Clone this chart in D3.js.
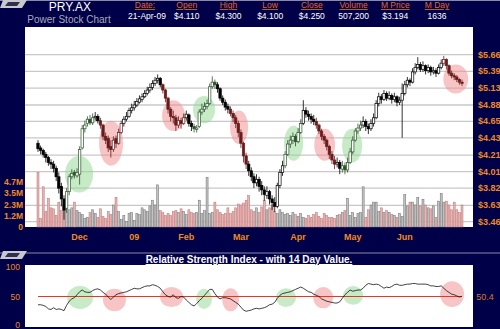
<!DOCTYPE html>
<html>
<head>
<meta charset="utf-8">
<script src="https://cdn.jsdelivr.net/npm/d3@7"></script>
<style>
  body { margin: 0; background: #000048; }
  svg { display: block; font-family: "Liberation Sans", Arial, sans-serif; }
</style>
</head>
<body>
<div id="chart"></div>
<script>
// Header data
var symbol = "PRY.AX",
    subtitle = "Power Stock Chart";
var headerLabels = ["Date:", "Open", "High", "Low", "Close", "Volume", "M Price", "M Day"];
var headerValues = ["21-Apr-09", "$4.110", "$4.300", "$4.100", "$4.250", "507,200", "$3.194", "1636"];

// Daily prices (one per trading day)
var openP = [4.36,4.30,4.27,4.22,4.18,4.12,4.10,4.05,3.95,3.84,
  3.70,3.60,3.78,3.95,4.00,3.96,3.98,4.30,4.55,4.62,
  4.68,4.63,4.70,4.72,4.66,4.60,4.45,4.42,4.32,4.28,
  4.42,4.36,4.50,4.62,4.68,4.72,4.80,4.84,4.88,4.92,
  4.96,5.00,5.05,5.10,5.14,5.20,5.25,5.28,5.18,5.10,
  4.98,4.82,4.72,4.70,4.60,4.66,4.62,4.70,4.74,4.62,
  4.58,4.54,4.58,4.78,4.82,4.86,4.90,5.15,5.22,5.18,
  5.12,4.98,4.92,4.86,4.82,4.76,4.70,4.62,4.50,4.36,
  4.20,4.10,4.02,3.95,3.88,3.92,3.85,3.80,3.74,3.78,
  3.70,3.66,3.62,3.85,4.00,4.08,4.22,4.35,4.40,4.45,
  4.38,4.50,4.62,4.80,4.75,4.72,4.68,4.65,4.60,4.52,
  4.45,4.40,4.32,4.22,4.15,4.10,4.12,4.04,4.08,4.03,
  4.12,4.25,4.40,4.52,4.56,4.60,4.65,4.58,4.55,4.62,
  4.70,4.90,5.00,4.96,5.05,4.98,5.02,4.96,5.00,4.92,
  4.95,5.05,5.18,5.25,5.22,5.38,5.45,5.50,5.42,5.48,
  5.40,5.45,5.38,5.40,5.36,5.45,5.52,5.58,5.48,5.36,
  5.32,5.30,5.26,5.22];
var highP = [4.40,4.33,4.29,4.25,4.20,4.16,4.14,4.08,4.00,3.88,
  3.74,3.82,3.98,4.04,4.03,4.05,4.32,4.60,4.66,4.72,
  4.74,4.76,4.78,4.75,4.70,4.62,4.50,4.46,4.40,4.45,
  4.46,4.55,4.66,4.72,4.78,4.84,4.90,4.94,4.98,5.02,
  5.05,5.10,5.15,5.20,5.25,5.30,5.34,5.30,5.20,5.12,
  5.00,4.85,4.80,4.74,4.72,4.70,4.76,4.80,4.76,4.66,
  4.62,4.60,4.82,4.90,4.92,4.96,5.20,5.31,5.26,5.22,
  5.14,5.02,4.96,4.90,4.86,4.80,4.74,4.66,4.54,4.38,
  4.24,4.14,4.06,3.99,3.98,3.95,3.90,3.84,3.84,3.80,
  3.74,3.72,3.88,4.04,4.14,4.26,4.40,4.46,4.50,4.48,
  4.56,4.68,4.95,4.85,4.80,4.76,4.74,4.70,4.62,4.55,
  4.48,4.42,4.34,4.26,4.20,4.18,4.15,4.14,4.12,4.18,
  4.30,4.45,4.56,4.62,4.66,4.72,4.68,4.62,4.68,4.76,
  4.95,5.06,5.04,5.10,5.08,5.08,5.05,5.06,5.02,5.00,
  5.20,5.24,5.30,5.28,5.44,5.52,5.62,5.54,5.55,5.50,
  5.50,5.48,5.46,5.44,5.50,5.58,5.64,5.60,5.50,5.40,
  5.36,5.33,5.28,5.26];
var lowP = [4.25,4.22,4.18,4.12,4.08,4.04,4.00,3.90,3.76,3.62,
  3.48,3.55,3.74,3.92,3.93,3.94,3.86,4.28,4.50,4.58,
  4.60,4.60,4.66,4.62,4.55,4.40,4.35,4.25,4.18,4.25,
  4.30,4.34,4.48,4.58,4.65,4.70,4.76,4.80,4.85,4.90,
  4.92,4.98,5.02,5.06,5.10,5.16,5.20,5.14,5.05,4.92,
  4.76,4.65,4.62,4.52,4.56,4.55,4.60,4.66,4.58,4.52,
  4.50,4.50,4.56,4.74,4.78,4.82,4.88,5.12,5.12,5.06,
  4.94,4.88,4.80,4.76,4.72,4.64,4.56,4.44,4.30,4.12,
  4.04,3.96,3.90,3.82,3.84,3.78,3.74,3.68,3.70,3.64,
  3.58,3.56,3.60,3.82,3.96,4.05,4.20,4.30,4.35,4.32,
  4.36,4.48,4.60,4.70,4.66,4.62,4.60,4.55,4.48,4.40,
  4.35,4.27,4.16,4.10,4.04,4.06,3.98,4.00,3.98,4.00,
  4.10,4.22,4.38,4.48,4.52,4.56,4.52,4.48,4.52,4.58,
  4.68,4.86,4.90,4.94,4.94,4.95,4.90,4.92,4.86,4.88,
  4.43,5.02,5.14,5.16,5.20,5.34,5.42,5.38,5.38,5.34,
  5.36,5.32,5.34,5.30,5.34,5.42,5.48,5.42,5.32,5.28,
  5.25,5.22,5.18,5.16];
var closeP = [4.29,4.27,4.22,4.18,4.12,4.10,4.05,3.95,3.82,3.70,
  3.58,3.78,3.95,3.99,3.97,4.00,4.28,4.55,4.60,4.68,
  4.63,4.70,4.72,4.66,4.60,4.45,4.40,4.30,4.28,4.40,
  4.36,4.50,4.62,4.68,4.72,4.80,4.84,4.88,4.93,4.97,
  5.00,5.05,5.10,5.14,5.20,5.25,5.28,5.18,5.10,4.98,
  4.82,4.72,4.70,4.60,4.66,4.62,4.70,4.75,4.62,4.58,
  4.55,4.56,4.78,4.82,4.86,4.90,5.15,5.22,5.18,5.12,
  4.98,4.92,4.85,4.82,4.76,4.70,4.62,4.50,4.36,4.20,
  4.10,4.02,3.95,3.88,3.92,3.84,3.80,3.75,3.78,3.70,
  3.66,3.62,3.85,4.00,4.08,4.22,4.35,4.40,4.45,4.38,
  4.50,4.62,4.80,4.75,4.72,4.68,4.65,4.60,4.52,4.45,
  4.40,4.32,4.22,4.15,4.10,4.12,4.05,4.08,4.03,4.12,
  4.25,4.40,4.52,4.56,4.60,4.65,4.58,4.55,4.62,4.70,
  4.90,5.00,4.96,5.05,4.98,5.02,4.96,5.00,4.92,4.95,
  5.05,5.18,5.25,5.22,5.38,5.45,5.50,5.42,5.48,5.40,
  5.45,5.38,5.40,5.36,5.45,5.52,5.58,5.48,5.36,5.32,
  5.30,5.26,5.22,5.20];

// Volume in millions
var volume = [5.7,0.9,4.2,1.6,3.0,2.0,1.9,1.2,2.6,1.7,
  2.1,2.0,1.8,2.0,2.6,1.7,1.5,1.3,0.9,1.0,
  1.5,1.8,1.4,1.0,1.9,1.1,0.9,1.6,1.3,2.3,
  3.1,1.6,0.8,1.2,0.6,1.4,1.5,0.7,1.4,1.3,
  2.0,1.8,1.6,2.2,2.8,2.3,4.4,1.7,1.5,1.2,
  1.4,1.2,1.6,1.7,1.5,1.9,1.6,1.3,1.8,1.5,
  1.4,1.5,2.8,1.4,1.7,5.2,1.4,1.5,2.6,1.8,
  1.5,1.3,1.4,2.0,1.4,1.6,2.0,2.4,2.3,2.5,
  2.8,3.3,1.8,1.6,2.0,1.5,2.1,2.8,1.8,2.0,
  2.3,1.6,1.4,1.8,1.5,1.3,1.4,1.2,1.5,1.3,
  1.1,1.4,1.0,0.9,1.2,1.0,1.3,1.5,1.1,0.9,
  1.4,1.2,1.0,1.0,0.9,1.2,1.3,1.5,1.7,3.0,
  1.2,1.5,1.0,1.4,1.5,4.2,1.0,1.8,2.3,2.6,
  2.6,1.6,2.0,1.5,1.7,1.5,1.3,1.2,1.0,1.4,
  1.1,3.4,2.2,2.6,2.6,2.3,3.1,2.2,2.9,2.3,
  2.0,1.9,2.2,1.0,2.7,3.5,2.6,2.7,2.3,1.8,
  2.6,1.8,1.5,2.3];

// 14 day RSI
var rsi = [36,36,35,33,29,28,31,28,29,28,
  26,35,42,46,48,53,58,61,58,57,
  57,60,62,63,61,57,54,49,45,49,
  53,55,56,57,58,60,62,64,63,63,
  65,67,68,68,70,69,67,64,58,53,
  50,49,53,48,47,50,49,44,40,36,
  34,38,43,47,52,57,62,62,55,49,
  46,48,48,47,46,43,40,37,32,27,
  25,26,27,29,30,29,30,31,33,36,
  37,40,47,52,55,56,57,58,60,62,
  64,66,64,61,58,57,54,52,50,46,
  44,42,41,40,39,39,41,47,53,57,
  61,59,60,61,61,64,69,72,71,70,
  71,70,67,64,66,65,67,70,71,69,
  69,70,71,71,72,72,71,71,71,71,
  70,68,68,67,67,68,64,60,57,54,
  53,51,49,50.4];
var rsiLast = "50.4";
var rsiTitle = "Relative Strength Index - with 14 Day Value.";

// Axis labels
var months = ["Dec", "09", "Feb", "Mar", "Apr", "May", "Jun"];
var monthBar = [16, 37, 57, 78, 100, 121, 141];
var priceTicks = [3.46, 3.63, 3.82, 4.01, 4.21, 4.43, 4.65, 4.88, 5.13, 5.39, 5.66];
var volTicks = [0, 1.175, 2.35, 3.525, 4.7];
var volLabels = ["0", "1.2M", "2.3M", "3.5M", "4.7M"];
var rsiTicks = [0, 50, 100];

// Highlighted patterns: [fromBar, toBar, low, high, kind]
var priceZones = [[10.4, 21.2, 3.77, 4.20, "g"], [23.5, 32.7, 4.08, 4.66, "r"],
  [47.7, 56.5, 4.52, 4.95, "r"], [59.6, 68.1, 4.62, 5.01, "g"],
  [73.8, 80.8, 4.35, 4.80, "r"], [94.6, 101.9, 4.14, 4.59, "g"],
  [106.2, 114.2, 4.14, 4.55, "r"], [116.9, 124.6, 4.12, 4.55, "g"],
  [155.8, 165.4, 5.05, 5.50, "r"]];
var rsiZones = [[11.2, 21.2, 29, 68, "g"], [25, 33.8, 25, 63, "r"],
  [46.9, 55.8, 32, 66, "r"], [60.8, 66.9, 29, 63, "g"],
  [70.8, 77.3, 25, 64, "r"], [91.5, 99.2, 32, 64, "g"],
  [105.8, 113.5, 30, 66, "r"], [117.3, 125, 36, 68, "g"],
  [154.6, 163.8, 32, 76, "r"]];

var width = 500, height = 329;
var navy = "#000048", orange = "#ee8a24";
var zoneFill = {g: "#8fd88f", r: "#f08c8c"},
    zoneInk = {g: "#2c552c", r: "#6a1c1c"};

var svg = d3.select("#chart").append("svg")
    .attr("width", width)
    .attr("height", height);

svg.append("rect").attr("width", width).attr("height", height).attr("fill", navy);

// Scales
var x = d3.scaleLinear().domain([0, closeP.length - 1]).range([38, 462]);
var y = d3.scaleLog().domain([3.46, 5.66]).range([221.7, 54.7]);
var yVol = d3.scaleLinear().domain([0, 4.7]).range([227, 182]);
var yRsi = d3.scaleLinear().domain([0, 100]).range([326, 267]);

var price = {left: 25, right: 473, top: 27, bottom: 227};
var osc = {left: 25, right: 473, top: 265, bottom: 327};

// Decorative lines and tabs
[0.5, 253].forEach(function(ly) {
  svg.append("line").attr("x1", 0).attr("x2", width).attr("y1", ly).attr("y2", ly)
    .attr("stroke", "#8a8aa6").attr("stroke-width", 1.2);
});
[0, 251].forEach(function(ty) {
  svg.append("polygon")
    .attr("points", [[3, ty], [27, ty], [22, ty + 8], [0, ty + 8]].join(" "))
    .attr("fill", "#c8c8d0");
  svg.append("polygon")
    .attr("points", [[8, ty + 2], [20, ty + 2], [17, ty + 6], [5, ty + 6]].join(" "))
    .attr("fill", "#30304a");
});

// Header
svg.append("text").attr("x", 70).attr("y", 11).attr("text-anchor", "middle")
  .attr("fill", "#fff").attr("font-size", 12).text(symbol);
svg.append("text").attr("x", 69).attr("y", 23).attr("text-anchor", "middle")
  .attr("fill", "#a8a8bc").attr("font-size", 10).text(subtitle);

var hx = d3.scalePoint().domain(headerLabels).range([145, 437]);
svg.selectAll(".hlabel").data(headerLabels).enter().append("text")
  .attr("class", "hlabel")
  .attr("x", function(d) { return hx(d); }).attr("y", 8)
  .attr("text-anchor", "middle").attr("fill", "#e0662a").attr("font-size", 8.5)
  .attr("text-decoration", "underline").text(function(d) { return d; });
svg.selectAll(".hvalue").data(headerValues).enter().append("text")
  .attr("class", "hvalue")
  .attr("x", function(d, i) { return hx(headerLabels[i]) + (i === 0 ? 2 : 0); }).attr("y", 19)
  .attr("text-anchor", "middle").attr("fill", "#fff").attr("font-size", 8.5)
  .text(function(d) { return d; });

// Price panel
svg.append("rect").attr("x", price.left).attr("y", price.top)
  .attr("width", price.right - price.left).attr("height", price.bottom - price.top)
  .attr("fill", "#fff");

svg.selectAll(".grid").data(priceTicks).enter().append("line")
  .attr("x1", price.left).attr("x2", price.right)
  .attr("y1", function(d) { return y(d); }).attr("y2", function(d) { return y(d); })
  .attr("stroke", "#c8c8c8").attr("stroke-width", 1.3);

function zoneEllipse(g, zones, yScale) {
  g.selectAll("ellipse").data(zones).enter().append("ellipse")
    .attr("cx", function(d) { return (x(d[0]) + x(d[1])) / 2; })
    .attr("cy", function(d) { return (yScale(d[2]) + yScale(d[3])) / 2; })
    .attr("rx", function(d) { return (x(d[1]) - x(d[0])) / 2; })
    .attr("ry", function(d) { return Math.abs(yScale(d[2]) - yScale(d[3])) / 2; })
    .attr("fill", function(d) { return zoneFill[d[4]]; })
    .attr("fill-opacity", 0.5);
}
zoneEllipse(svg.append("g"), priceZones, y);

// Volume bars
var days = d3.range(closeP.length);
svg.append("g").selectAll("rect").data(days).enter().append("rect")
  .attr("x", function(i) { return x(i) - 1; })
  .attr("width", 2)
  .attr("y", function(i) { return yVol(volume[i]); })
  .attr("height", function(i) { return yVol(0) - yVol(volume[i]); })
  .attr("fill", function(i) { return closeP[i] < openP[i] ? "#eab2b2" : "#c2c2c2"; })
  .attr("stroke", function(i) { return closeP[i] < openP[i] ? "#b87474" : "#6e6e6e"; })
  .attr("stroke-width", 0.5);

// Candles
function inkFor(i) {
  for (var k = 0; k < priceZones.length; k++) {
    if (i >= priceZones[k][0] && i <= priceZones[k][1]) return zoneInk[priceZones[k][4]];
  }
  return "#000";
}
var candles = svg.append("g").selectAll("g").data(days).enter().append("g");
candles.append("line")
  .attr("x1", function(i) { return x(i); }).attr("x2", function(i) { return x(i); })
  .attr("y1", function(i) { return y(highP[i]); }).attr("y2", function(i) { return y(lowP[i]); })
  .attr("stroke", inkFor).attr("stroke-width", 0.8);
candles.append("rect")
  .attr("x", function(i) { return x(i) - 1.2; })
  .attr("width", 2.4)
  .attr("y", function(i) { return y(Math.max(openP[i], closeP[i])); })
  .attr("height", function(i) { return Math.max(1, Math.abs(y(openP[i]) - y(closeP[i]))); })
  .attr("fill", function(i) { return closeP[i] >= openP[i] ? "#fff" : inkFor(i); })
  .attr("stroke", inkFor).attr("stroke-width", 0.7);

// Right price labels
svg.selectAll(".plabel").data(priceTicks).enter().append("text")
  .attr("x", 478).attr("y", function(d) { return y(d) + 3; })
  .attr("fill", orange).attr("font-size", 9).attr("font-weight", "bold")
  .text(function(d) { return "$" + d.toFixed(2); });

// Left volume labels
svg.selectAll(".vlabel").data(volTicks).enter().append("text")
  .attr("x", 23).attr("y", function(d) { return yVol(d) + 3; })
  .attr("text-anchor", "end").attr("fill", orange).attr("font-size", 8.5).attr("font-weight", "bold")
  .text(function(d, i) { return volLabels[i]; });

// Month labels
svg.selectAll(".mlabel").data(months).enter().append("text")
  .attr("x", function(d, i) { return x(monthBar[i]); }).attr("y", 240)
  .attr("text-anchor", "middle").attr("fill", orange).attr("font-size", 9).attr("font-weight", "bold")
  .text(function(d) { return d; });

// RSI panel
svg.append("text").attr("x", 249).attr("y", 263).attr("text-anchor", "middle")
  .attr("fill", "#fff").attr("font-size", 10).attr("font-weight", "bold")
  .attr("text-decoration", "underline").text(rsiTitle);

svg.append("rect").attr("x", osc.left).attr("y", osc.top)
  .attr("width", osc.right - osc.left).attr("height", osc.bottom - osc.top)
  .attr("fill", "#fff");

zoneEllipse(svg.append("g"), rsiZones, yRsi);

svg.append("line").attr("x1", x(0)).attr("x2", x(closeP.length - 1))
  .attr("y1", yRsi(50)).attr("y2", yRsi(50))
  .attr("stroke", "#e03a26").attr("stroke-width", 1.2);

svg.append("path").datum(rsi)
  .attr("d", d3.line().x(function(d, i) { return x(i); }).y(function(d) { return yRsi(d); }))
  .attr("fill", "none").attr("stroke", "#111").attr("stroke-width", 0.8);

svg.selectAll(".rlabel").data(rsiTicks).enter().append("text")
  .attr("x", 20).attr("y", function(d) { return Math.min(yRsi(d) + 3, 327.5); })
  .attr("text-anchor", "end").attr("fill", orange).attr("font-size", 8.5)
  .text(function(d) { return d; });

svg.append("text").attr("x", 485).attr("y", yRsi(50) + 3).attr("text-anchor", "middle")
  .attr("fill", "#d9782c").attr("font-size", 9).text(rsiLast);
</script>
</body>
</html>
